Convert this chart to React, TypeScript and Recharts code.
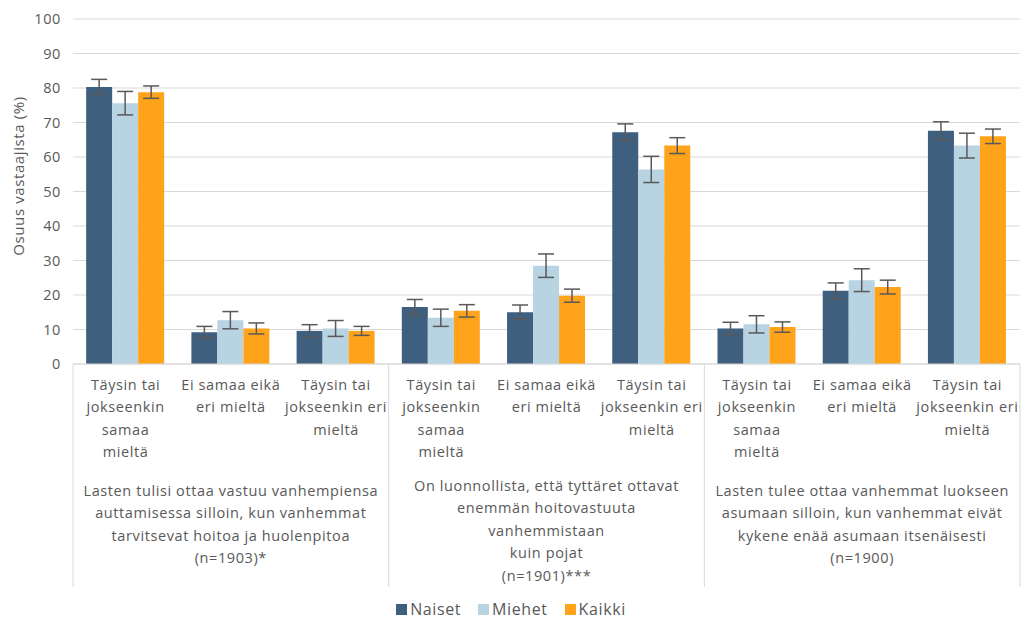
import React from 'react';
import { BarChart, Bar, XAxis, YAxis, CartesianGrid, ErrorBar } from 'recharts';

// answer categories (tick labels, line breaks as in the reference)
const categories = [
  'Täysin tai\njokseenkin\nsamaa\nmieltä',
  'Ei samaa eikä\neri mieltä',
  'Täysin tai\njokseenkin eri\nmieltä',
  'Täysin tai\njokseenkin\nsamaa\nmieltä',
  'Ei samaa eikä\neri mieltä',
  'Täysin tai\njokseenkin eri\nmieltä',
  'Täysin tai\njokseenkin\nsamaa\nmieltä',
  'Ei samaa eikä\neri mieltä',
  'Täysin tai\njokseenkin eri\nmieltä',
];

// statements (second level of the category axis)
const groups = [
  'Lasten tulisi ottaa vastuu vanhempiensa\nauttamisessa silloin, kun vanhemmat\ntarvitsevat hoitoa ja huolenpitoa\n(n=1903)*',
  'On luonnollista, että tyttäret ottavat\nenemmän hoitovastuuta\nvanhemmistaan\nkuin pojat\n(n=1901)***',
  'Lasten tulee ottaa vanhemmat luokseen\nasumaan silloin, kun vanhemmat eivät\nkykene enää asumaan itsenäisesti\n(n=1900)',
];

const naiset = [80.3, 9.2, 9.6, 16.5, 15.0, 67.2, 10.3, 21.2, 67.6];
const naisetErr = [2.2, 1.7, 1.8, 2.2, 2.1, 2.4, 1.8, 2.3, 2.6];
const miehet = [75.6, 12.7, 10.3, 13.4, 28.5, 56.4, 11.5, 24.3, 63.3];
const miehetErr = [3.4, 2.5, 2.3, 2.5, 3.4, 3.8, 2.5, 3.3, 3.6];
const kaikki = [78.8, 10.3, 9.6, 15.4, 19.8, 63.3, 10.7, 22.3, 66.0];
const kaikkiErr = [1.8, 1.6, 1.3, 1.8, 1.9, 2.3, 1.5, 2.0, 2.1];

const seriesNames = ['Naiset', 'Miehet', 'Kaikki'] as const;
const yTicks = [0, 10, 20, 30, 40, 50, 60, 70, 80, 90, 100];

const data = categories.map((c, i) => ({
  key: `c${i}`,
  label: c,
  Naiset: naiset[i],
  naisetErr: naisetErr[i],
  Miehet: miehet[i],
  miehetErr: miehetErr[i],
  Kaikki: kaikki[i],
  kaikkiErr: kaikkiErr[i],
}));

const FONT = '"Open Sans", sans-serif';
const TEXT = '#595959';
const GRID = '#d9d9d9';
const W = 1022;
const H = 619;
const LEFT = 73;
const RIGHT = 2;
const TOP = 19;
const AXIS_Y = 364;
const BAND = (W - LEFT - RIGHT) / categories.length;

const COLORS = { Naiset: '#3f5f7e', Miehet: '#b8d3e2', Kaikki: '#ffa31a' };

const txt = { fill: TEXT, fontSize: 14.5, fontFamily: FONT, letterSpacing: 0.6 };

function CategoryTick(props: any) {
  const { x, payload } = props;
  const i = payload.index;
  const lines = String(categories[i]).split('\n');
  const out: React.ReactNode[] = [];
  lines.forEach((l, k) => {
    out.push(
      <text key={'l' + k} x={x} y={384 + k * 22.6} textAnchor="middle" dominantBaseline="central" {...txt}>{l}</text>
    );
  });
  if (i % 3 === 0) {
    const lx = x - BAND / 2;
    out.push(<line key="sepL" x1={lx} x2={lx} y1={AXIS_Y} y2={587} stroke={GRID} />);
  }
  if (i === categories.length - 1) {
    const rx = x + BAND / 2;
    out.push(<line key="sepR" x1={rx} x2={rx} y1={AXIS_Y} y2={587} stroke={GRID} />);
  }
  if (i % 3 === 1) {
    const g = groups[Math.floor(i / 3)].split('\n');
    const start = 510 - g.length * 5;
    g.forEach((l, k) => {
      out.push(
        <text key={'g' + k} x={x} y={start + k * 22.6} textAnchor="middle" dominantBaseline="central" {...txt}>{l}</text>
      );
    });
  }
  return <g>{out}</g>;
}

export default function App() {
  return (
    <div style={{ position: 'absolute', left: 0, top: 0, width: W, height: H, background: '#fff', overflow: 'hidden' }}>
      <BarChart width={W} height={H} data={data} margin={{ top: TOP, right: RIGHT, left: 0, bottom: 24 }}
        barCategoryGap="12.5%" barGap={0}>
        <CartesianGrid vertical={false} stroke={GRID} />
        <XAxis dataKey="key" height={231} interval={0} tick={<CategoryTick />} tickLine={false}
          axisLine={{ stroke: GRID }} />
        <YAxis width={LEFT} domain={[0, 100]} ticks={yTicks} axisLine={false} tickLine={false}
          tickSize={0} tickMargin={12} tick={{ ...txt }}
          label={{
            content: () => (
              <text x={18} y={176} transform="rotate(-90 18 176)" textAnchor="middle" dominantBaseline="central"
                {...txt} fontSize={15}>Osuus vastaajista (%)</text>
            ),
          }} />
        <Bar dataKey="Naiset" fill={COLORS.Naiset} isAnimationActive={false}>
          <ErrorBar dataKey="naisetErr" width={8} stroke="#595959" strokeWidth={1.5} />
        </Bar>
        <Bar dataKey="Miehet" fill={COLORS.Miehet} isAnimationActive={false}>
          <ErrorBar dataKey="miehetErr" width={8} stroke="#595959" strokeWidth={1.5} />
        </Bar>
        <Bar dataKey="Kaikki" fill={COLORS.Kaikki} isAnimationActive={false}>
          <ErrorBar dataKey="kaikkiErr" width={8} stroke="#595959" strokeWidth={1.5} />
        </Bar>
      </BarChart>
      <div style={{ position: 'absolute', left: 0, top: 600, width: W, height: 18, display: 'flex', justifyContent: 'center',
        alignItems: 'center', gap: 17, fontFamily: FONT, fontSize: 16, letterSpacing: 0.6, color: TEXT, lineHeight: '18px' }}>
        {seriesNames.map((k) => (
          <div key={k} style={{ display: 'flex', alignItems: 'center', gap: 3 }}>
            <span style={{ width: 11, height: 11, background: COLORS[k], display: 'inline-block' }} />
            <span>{k}</span>
          </div>
        ))}
      </div>
    </div>
  );
}
